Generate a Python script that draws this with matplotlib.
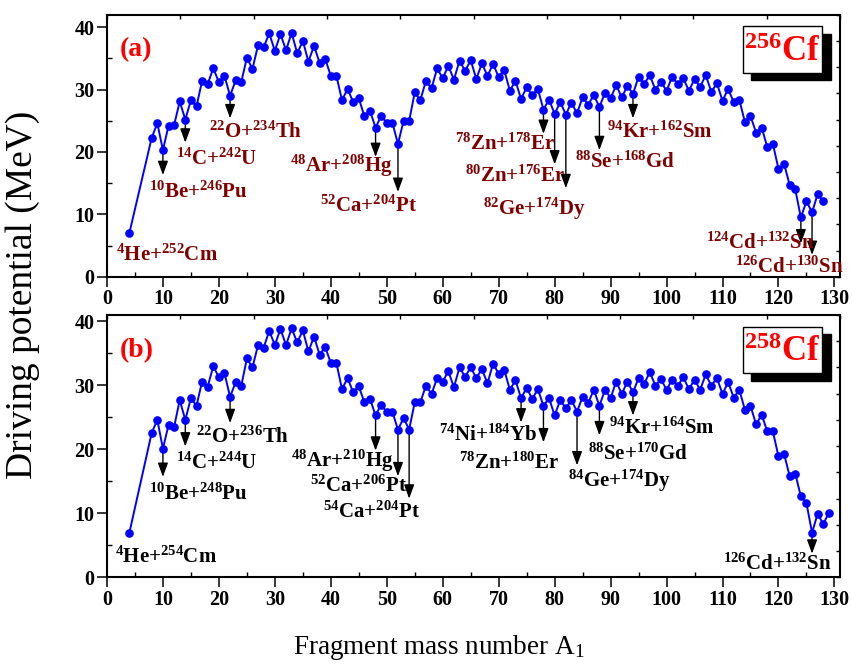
import numpy as np
import matplotlib
matplotlib.use('Agg')
import matplotlib.pyplot as plt
from matplotlib.patches import Rectangle

plt.rcParams['font.family'] = ['Liberation Serif', 'DejaVu Serif']
plt.rcParams['mathtext.default'] = 'regular'

# fragment mass numbers A1 (4, then 8 ... end)
A_256 = np.r_[4, np.arange(8, 129)]
A_258 = np.r_[4, np.arange(8, 130)]

# driving potential (MeV), 256Cf
V_256 = [7.0,
         22.3, 24.6, 20.3, 24.2, 24.3, 28.1, 25.2, 28.3, 27.3, 31.4,
         30.9, 33.4, 31.2, 32.2, 29.0, 31.5, 31.2, 35.1, 33.3, 37.1,
         36.8, 39.0, 36.2, 38.9, 36.3, 39.1, 35.8, 37.8, 34.5, 37.0,
         34.3, 34.9, 32.2, 32.2, 28.3, 30.1, 28.0, 28.6, 25.75, 26.6,
         23.9, 25.75, 24.7, 24.7, 21.3, 24.95, 24.95, 29.55, 28.3, 31.4,
         30.2, 33.4, 31.8, 33.8, 31.6, 34.6, 33.0, 34.7, 31.7, 34.2,
         32.2, 34.1, 32.0, 33.1, 29.8, 31.4, 28.5, 30.35, 29.1, 30.1,
         26.8, 28.4, 26.1, 28.0, 26.0, 27.9, 26.2, 28.75, 27.6, 29.1,
         27.2, 29.5, 28.6, 30.7, 28.75, 30.6, 29.3, 32.05, 30.9, 32.3,
         30.0, 31.25, 29.8, 32.05, 30.9, 31.8, 29.8, 31.7, 30.45, 32.3,
         29.65, 31.0, 28.2, 30.1, 28.0, 28.4, 24.8, 25.75, 23.1, 23.9,
         20.8, 21.3, 17.3, 18.1, 14.7, 14.0, 9.5, 12.1, 10.3, 13.25,
         12.1]

# driving potential (MeV), 258Cf
V_258 = [6.95,
         22.6, 24.6, 20.1, 23.8, 23.5, 27.7, 24.6, 28.0, 26.8, 30.6,
         29.8, 33.0, 31.25, 31.9, 28.2, 30.5, 29.9, 34.2, 32.8, 36.3,
         35.9, 38.5, 36.3, 38.8, 36.3, 38.9, 36.7, 38.6, 35.3, 37.6,
         34.8, 36.0, 33.5, 33.5, 29.4, 31.15, 28.9, 29.85, 27.35, 27.9,
         25.3, 27.0, 25.8, 25.9, 23.05, 24.9, 23.1, 27.35, 27.35, 29.95,
         28.65, 31.15, 30.6, 32.2, 29.7, 32.8, 31.35, 32.8, 31.15, 32.55,
         30.3, 33.4, 31.8, 32.4, 29.3, 30.8, 28.0, 29.6, 27.9, 29.4,
         26.8, 28.0, 25.3, 27.7, 26.4, 27.7, 25.9, 28.2, 27.25, 29.3,
         26.8, 29.3, 28.0, 30.6, 28.65, 30.6, 28.9, 31.15, 30.2, 32.1,
         29.95, 31.0, 29.3, 30.9, 29.95, 31.25, 29.4, 30.9, 29.3, 31.7,
         29.95, 31.15, 28.65, 30.5, 28.1, 29.3, 26.2, 26.8, 23.9, 25.4,
         22.8, 22.8, 18.9, 19.3, 15.8, 16.2, 12.65, 11.6, 6.95, 9.95,
         8.3, 10.1]

# labels: (text, A of arrow or None, arrow tip, text x, text baseline y)
labels_256 = [
    (r'$^{4}$He+$^{252}$Cm', None, None, 10.7, 2.6),
    (r'$^{10}$Be+$^{246}$Pu', 10, 16.3, 16.3, 12.6),
    (r'$^{14}$C+$^{242}$U', 14, 21.5, 19.6, 17.9),
    (r'$^{22}$O+$^{234}$Th', 22, 25.4, 26.5, 22.2),
    (r'$^{48}$Ar+$^{208}$Hg', 48, 19.2, 41.9, 16.9),
    (r'$^{52}$Ca+$^{204}$Pt', 52, 13.6, 46.7, 10.4),
    (r'$^{78}$Zn+$^{178}$Er', 78, 22.9, 71.1, 20.4),
    (r'$^{80}$Zn+$^{176}$Er', 80, 18.0, 72.9, 15.2),
    (r'$^{82}$Ge+$^{174}$Dy', 82, 14.2, 76.3, 9.9),
    (r'$^{88}$Se+$^{168}$Gd', 88, 20.3, 92.6, 17.4),
    (r'$^{94}$Kr+$^{162}$Sm', 94, 25.4, 98.8, 22.2),
    (r'$^{124}$Cd+$^{132}$Sn', 124, 5.35, 116.7, 4.4),
    (r'$^{126}$Cd+$^{130}$Sn', 126, 3.5, 121.9, 0.55),
]
labels_258 = [
    (r'$^{4}$He+$^{254}$Cm', None, None, 10.5, 2.2),
    (r'$^{10}$Be+$^{248}$Pu', 10, 15.7, 16.3, 12.15),
    (r'$^{14}$C+$^{244}$U', 14, 20.45, 19.6, 17.0),
    (r'$^{22}$O+$^{236}$Th', 22, 24.1, 24.3, 21.1),
    (r'$^{48}$Ar+$^{210}$Hg', 48, 19.8, 42.0, 17.2),
    (r'$^{52}$Ca+$^{206}$Pt', 52, 15.8, 44.9, 13.3),
    (r'$^{54}$Ca+$^{204}$Pt', 54, 12.3, 47.2, 9.3),
    (r'$^{74}$Ni+$^{184}$Yb', 74, 24.2, 68.2, 21.4),
    (r'$^{78}$Zn+$^{180}$Er', 78, 21.1, 71.9, 17.0),
    (r'$^{84}$Ge+$^{174}$Dy', 84, 17.5, 91.5, 14.1),
    (r'$^{88}$Se+$^{170}$Gd', 88, 22.2, 95.0, 18.4),
    (r'$^{94}$Kr+$^{164}$Sm', 94, 25.3, 99.1, 22.4),
    (r'$^{126}$Cd+$^{132}$Sn', 126, 3.7, 119.8, 1.25),
]

fig = plt.figure(figsize=(8.53, 6.72), dpi=100)
ax1 = fig.add_axes([0.1254, 0.5882, 0.8594, 0.3899])
ax2 = fig.add_axes([0.1254, 0.1409, 0.8594, 0.3904])


def draw_panel(ax, A, V, labels, ymax, tag, nucleus, lab_color):
    ax.plot(A, V, '-o', color='#0000ff', lw=1.4, ms=5.2, zorder=3)
    ax.set_xlim(0, 131)
    ax.set_ylim(0, ymax)
    ax.set_xticks(np.arange(0, 131, 10))
    ax.set_xticks(np.arange(5, 131, 10), minor=True)
    ax.set_yticks([0, 10, 20, 30, 40])
    ax.set_yticks([5, 15, 25, 35], minor=True)
    ax.tick_params(which='major', direction='out', length=7, width=1.1,
                   labelsize=14.5, pad=2)
    ax.tick_params(which='minor', direction='in', length=3.5, width=1)
    for t in ax.get_xticklabels() + ax.get_yticklabels():
        t.set_fontweight('bold')
    for s in ax.spines.values():
        s.set_linewidth(1.5)
    # Origin-style top / right axes with their own ticks
    top = ax.twiny()
    top.set_xlim(0, 10)
    top.set_xticks(np.arange(0, 11))
    top.tick_params(direction='in', length=3, width=1, labeltop=False)
    right = ax.twinx()
    right.set_ylim(0, 10)
    right.set_yticks(np.arange(0, 11))
    right.tick_params(direction='in', length=3, width=1, labelright=False)
    for s in top.spines.values():
        s.set_visible(False)
    for s in right.spines.values():
        s.set_visible(False)

    Vd = dict(zip(A, V))
    for txt, a, tip, tx, ty in labels:
        if a is not None:
            ax.annotate('', xy=(a, tip), xytext=(a, Vd[a]),
                        arrowprops=dict(arrowstyle='-|>,head_length=0.6,head_width=0.22',
                                        color='black', lw=1.0, shrinkA=0,
                                        shrinkB=0, mutation_scale=14),
                        zorder=2)
        ax.text(tx, ty, txt, ha='center', va='baseline', fontsize=15,
                fontweight='bold', color=lab_color, zorder=4)

    ax.text(0.04, 0.865, tag, transform=ax.transAxes, ha='center',
            va='center', fontsize=20, fontweight='bold', color='red')
    x0, y0, w, h = 0.867, 0.779, 0.109, 0.177
    ax.add_patch(Rectangle((x0 + 0.0116, y0 - 0.03), w, h,
                           transform=ax.transAxes, facecolor='black',
                           edgecolor='black', zorder=5))
    ax.add_patch(Rectangle((x0, y0), w, h, transform=ax.transAxes,
                           facecolor='white', edgecolor='black', lw=1,
                           zorder=6))
    ax.text(x0 + w / 2, y0 + h / 2 - 0.01, nucleus, transform=ax.transAxes,
            ha='center', va='center', fontsize=25, fontweight='bold',
            color='red', zorder=7)


draw_panel(ax1, A_256, V_256, labels_256, 42, '(a)',
           r'$^{256}$Cf', '#800000')
draw_panel(ax2, A_258, V_258, labels_258, 41, '(b)',
           r'$^{258}$Cf', 'black')

fig.text(0.027, 0.561, 'Driving potential (MeV)', rotation=90,
         ha='center', va='center', fontsize=27)
fig.text(0.514, 0.037, r'Fragment mass number A$_1$', ha='center',
         va='center', fontsize=19.5)

fig.savefig('out.png', dpi=100)
